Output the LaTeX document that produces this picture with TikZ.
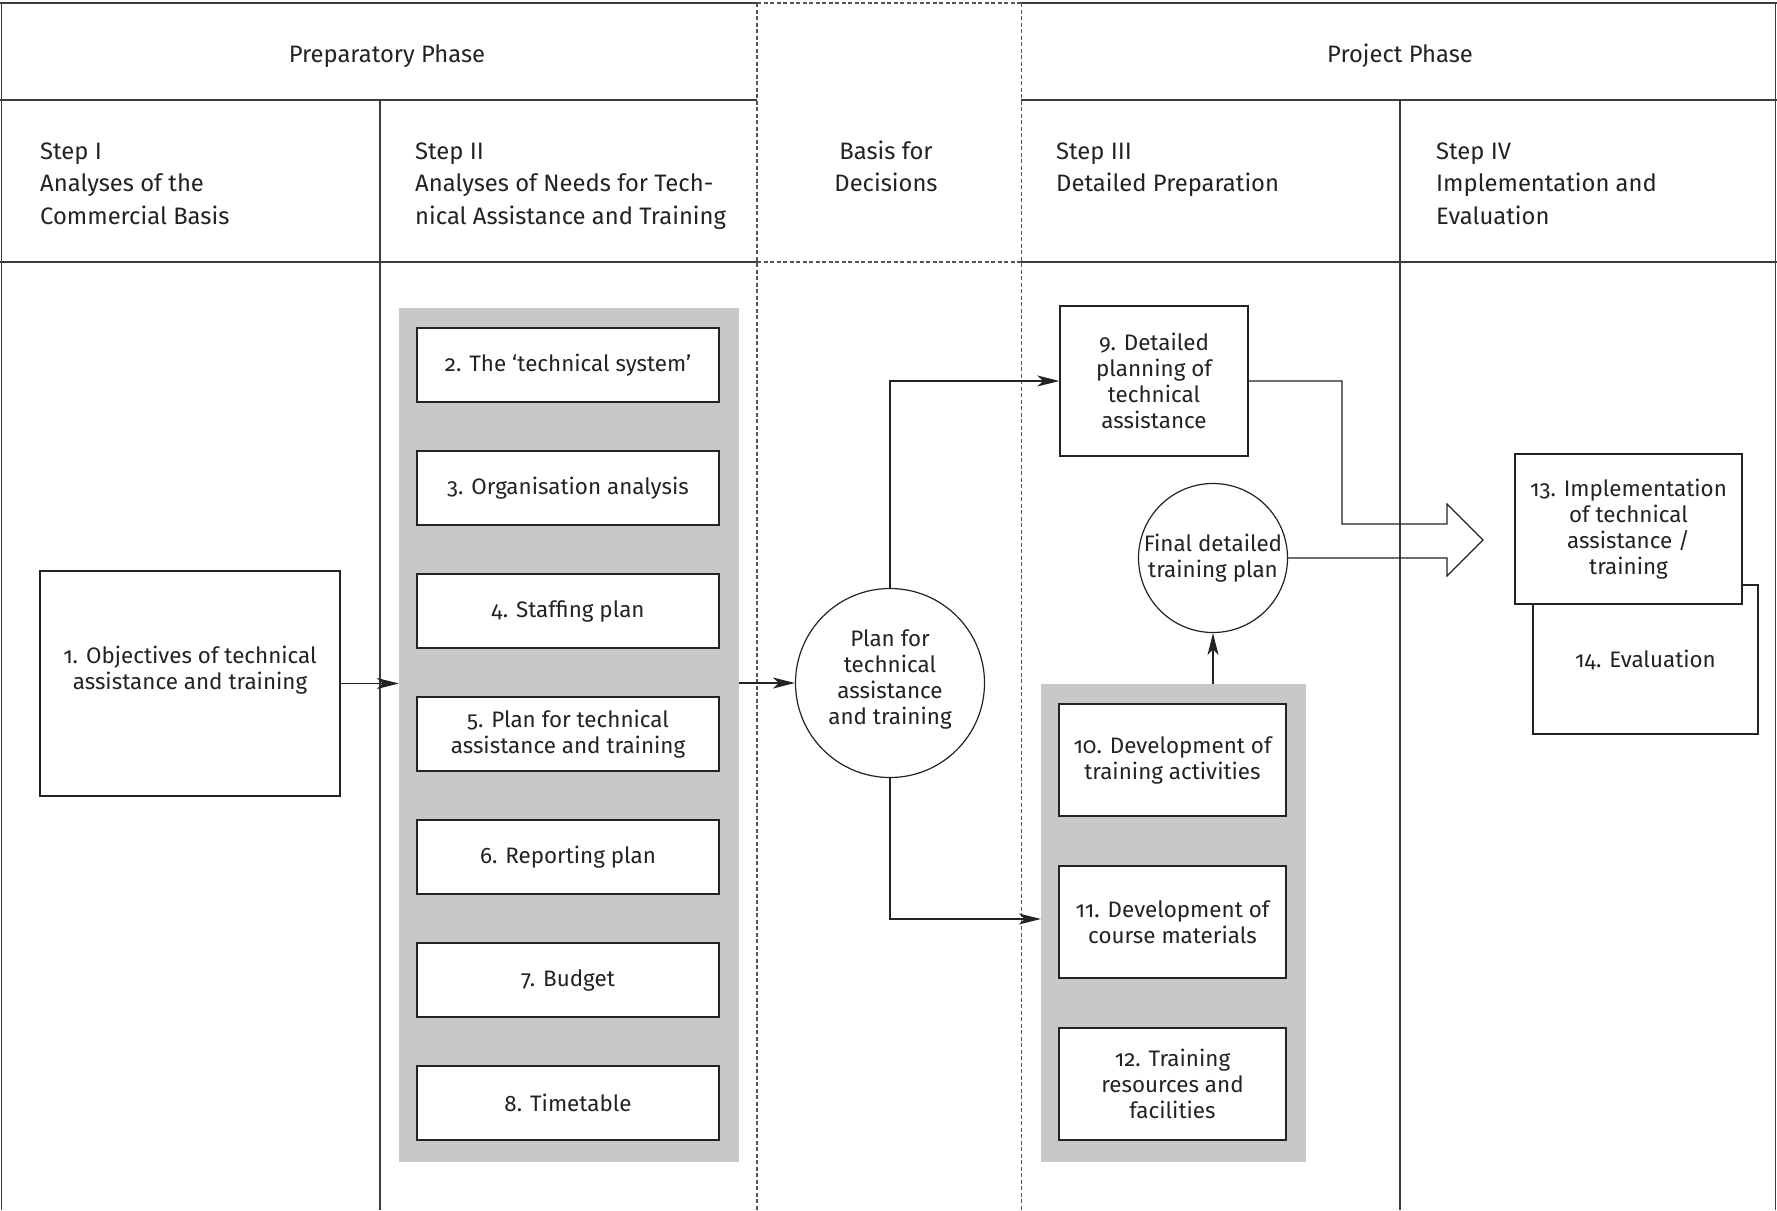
\documentclass[tikz,border=0pt]{standalone}
\usepackage{fontspec}
\setmainfont{Fira Sans}[Numbers=OldStyle]
\usetikzlibrary{arrows.meta,shapes.geometric}
\definecolor{panelgrey}{RGB}{199,200,202}
\definecolor{ink}{RGB}{35,35,35}
\definecolor{rulegrey}{RGB}{60,60,60}
\definecolor{dashgrey}{RGB}{85,85,85}
\begin{document}
\begin{tikzpicture}[x=1pt,y=-1pt,
  every node/.style={text=ink, inner sep=0pt},
  boxfont/.style={font=\fontsize{22.4}{26}\selectfont},
  headfont/.style={font=\fontsize{23.8}{32.5}\selectfont},
  box/.style={draw=ink, line width=1.5pt, fill=white, align=center, boxfont, rectangle},
  panel/.style={fill=panelgrey, draw=none, rectangle},
  roundel/.style={draw=ink, line width=1.2pt, fill=white, circle, align=center, boxfont},
  hrule/.style={draw=rulegrey, line width=1.8pt},
  vrule/.style={draw=rulegrey, line width=1.1pt},
  dashrule/.style={draw=dashgrey, line width=1.1pt, dash pattern=on 4pt off 2.5pt},
  arr/.style={draw=ink, line width=1.2pt, -{Stealth[length=22pt,width=11pt,inset=6pt]}},
  plain/.style={draw=ink, line width=1.2pt},
  headtxt/.style={headfont, align=left, anchor=base west},
]
\useasboundingbox (0,0) rectangle (1777,1210);
\fill[white] (0,0) rectangle (1777,1210);

% ---------- grid ----------
\draw[hrule] (0,3) -- (757,3);
\draw[hrule] (1021,3) -- (1777,3);
\draw[hrule] (0,100) -- (757,100);
\draw[hrule] (1021,100) -- (1777,100);
\draw[hrule] (0,262) -- (757,262);
\draw[hrule] (1021,262) -- (1777,262);
\draw[dashrule] (757,3) -- (1021,3);
\draw[dashrule] (757,262) -- (1021,262);
\draw[vrule] (1.5,3) -- (1.5,1210);
\draw[vrule] (380,100) -- (380,1210);
\draw[vrule] (1400,100) -- (1400,1210);
\draw[vrule] (1775.5,3) -- (1775.5,1210);
\draw[dashrule] (757,3) -- (757,1210);
\draw[dashrule] (1021.5,3) -- (1021.5,1210);

% ---------- headers (base anchor = last line) ----------
\node[headfont, anchor=base] (prep) at (387,62) {Preparatory Phase};
\node[headfont, anchor=base] (proj) at (1400,62) {Project Phase};
\node[headtxt] (s1) at (40,224) {Step I\\Analyses of the\\Commercial Basis};
\node[headtxt] (s2) at (415,224) {Step II\\Analyses of Needs for Tech-\\nical Assistance and Training};
\node[headfont, align=center, anchor=base] (bd) at (886,191.5) {Basis for\\Decisions};
\node[headtxt] (s3) at (1056,191.5) {Step III\\Detailed Preparation};
\node[headtxt] (s4) at (1436,224) {Step IV\\Implementation and\\Evaluation};

% ---------- panels ----------
\node[panel, minimum width=340pt, minimum height=854pt] (p1) at (569,735) {};
\node[panel, minimum width=265pt, minimum height=478pt] (p2) at (1173.5,923) {};

% ---------- boxes ----------
\node[box, minimum width=300pt, minimum height=225pt] (b1) at (190,683.5) {};
\node[boxfont, align=center] (b1t) at (190,670.5) {1. Objectives of technical\\assistance and training};

\node[box, minimum width=302pt, minimum height=74pt] (b2) at (568,365) {2. The ‘technical system’};
\node[box, minimum width=302pt, minimum height=74pt] (b3) at (568,488) {3. Organisation analysis};
\node[box, minimum width=302pt, minimum height=74pt] (b4) at (568,611) {4. Staffing plan};
\node[box, minimum width=302pt, minimum height=74pt] (b5) at (568,734) {5. Plan for technical\\assistance and training};
\node[box, minimum width=302pt, minimum height=74pt] (b6) at (568,857) {6. Reporting plan};
\node[box, minimum width=302pt, minimum height=74pt] (b7) at (568,980) {7. Budget};
\node[box, minimum width=302pt, minimum height=74pt] (b8) at (568,1103) {8. Timetable};

\node[roundel, minimum size=189pt] (plan) at (890,683) {};
\node[boxfont, align=center] (plant) at (890,679) {Plan for\\technical\\assistance\\and training};

\node[box, minimum width=188pt, minimum height=150pt] (b9) at (1154,381) {9. Detailed\\planning of\\technical\\assistance};
\node[roundel, minimum size=149pt] (final) at (1213,558) {Final detailed\\training plan};

\node[box, minimum width=227pt, minimum height=112pt] (b10) at (1172.5,760) {10. Development of\\training activities};
\node[box, minimum width=227pt, minimum height=112pt] (b11) at (1172.5,922) {11. Development of\\course materials};
\node[box, minimum width=227pt, minimum height=112pt] (b12) at (1172.5,1084) {12. Training\\resources and\\facilities};

\node[box, minimum width=225pt, minimum height=149pt] (b14) at (1645.5,659.5) {14. Evaluation};
\node[box, minimum width=227pt, minimum height=150pt] (b13) at (1628.5,529) {13. Implementation\\of technical\\assistance /\\training};

% ---------- connectors ----------
\draw[arr] (b1.east) -- (b1.east -| p1.west);
\draw[arr] (plan.west -| p1.east) -- (plan.west);
\draw[arr] (plan.north) |- (b9.west);
\draw[arr] (plan.south) |- ([yshift=3pt]b11.west -| p2.west);
\draw[arr] (final.south |- p2.north) -- (final.south);

% big hollow arrow
\coordinate (bend) at (1342,381);
\coordinate (shafttop) at (1342,524);
\coordinate (headtopin) at (1447,524);
\coordinate (headtop) at (1447,504);
\coordinate (tip) at (1483,540);
\coordinate (headbot) at (1447,576);
\coordinate (headbotin) at (1447,558);
\draw[plain, line join=miter] (b9.east) -- (bend) -- (shafttop) -- (headtopin) -- (headtop) -- (tip) -- (headbot) -- (headbotin) -- (final.east);
\end{tikzpicture}
\end{document}
